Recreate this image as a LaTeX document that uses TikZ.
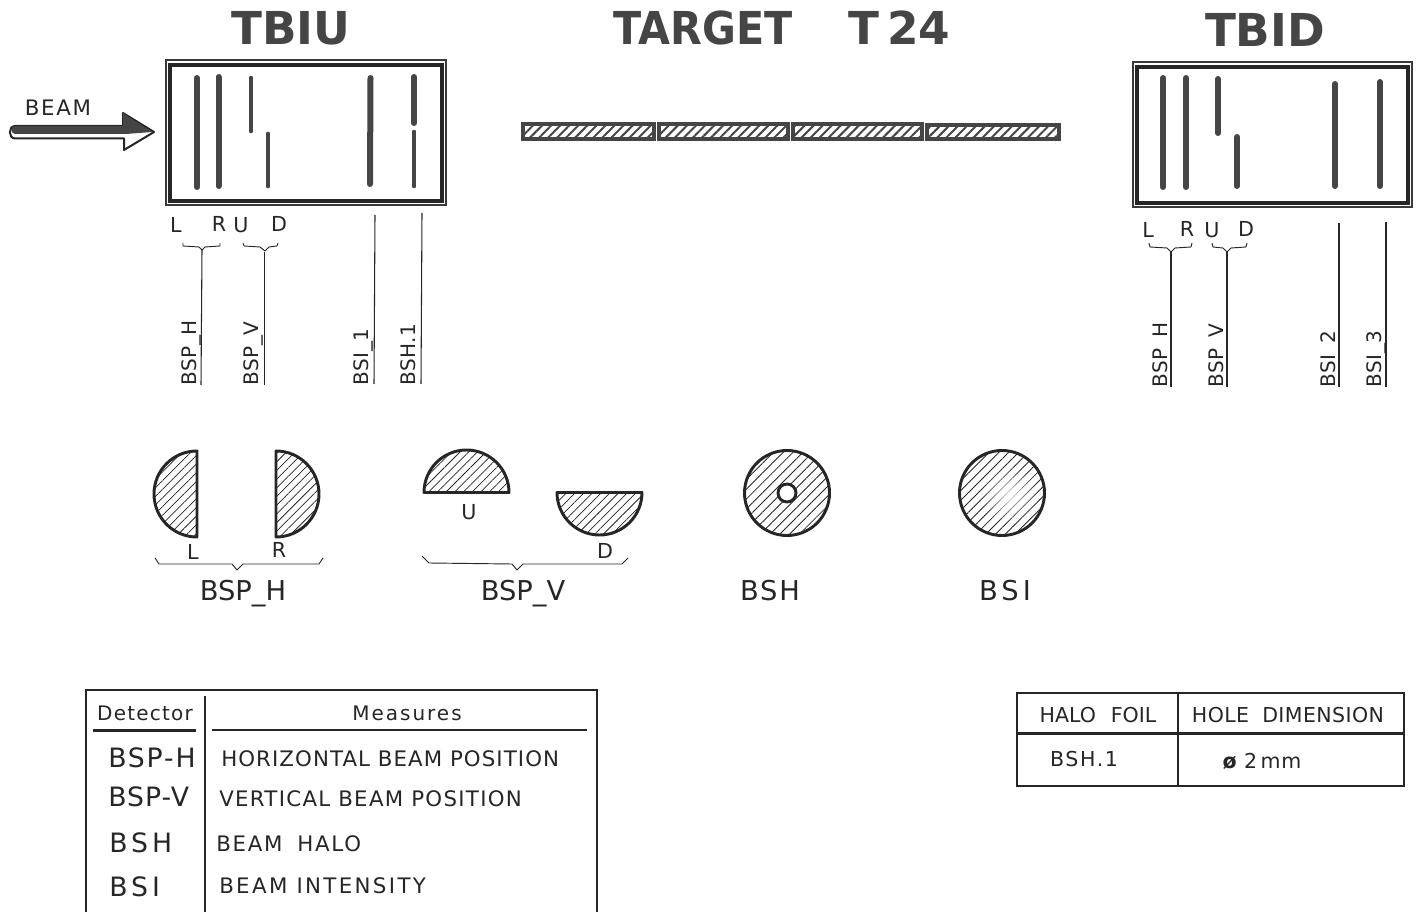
\documentclass[tikz,border=0pt]{standalone}
\usepackage{fontspec}
\setmainfont{DejaVu Sans}
\usetikzlibrary{patterns.meta,fadings}
\definecolor{ink}{HTML}{262626}
\definecolor{inkb}{HTML}{3a3a3a}
\definecolor{stip}{HTML}{454545}
\newcommand\ls[1]{\addfontfeature{LetterSpace=#1}}
\tikzfading[name=blob,inner color=transparent!15,outer color=transparent!100]
\tikzset{
  x=.75pt,y=.75pt,
  ink/.style={draw=stip,line cap=round,line join=round},
  bar/.style={ink,line width=4.5pt},
  thinbar/.style={ink,line width=3.5pt},
  frameo/.style={draw=inkb,line width=1pt},
  framei/.style={draw=ink,line width=2.3pt},
  leader/.style={draw=ink,line width=.8pt},
  bracket/.style={draw=ink,line width=.7pt,line join=round},
  disk/.style={draw=ink,line width=2.2pt,line join=round,pattern={Lines[angle=45,distance=4.6pt,line width=.55pt]},pattern color=ink},
  wdisk/.style={draw=ink,line width=2.2pt,pattern={Lines[angle=45,distance=5.2pt,line width=.65pt]},pattern color=ink},
  segm/.style={draw=stip,line width=2.8pt,pattern={Lines[angle=45,distance=4.8pt,line width=1.5pt]},pattern color=stip},
  ttl/.style={font=\bfseries\fontsize{34pt}{34pt}\selectfont,text=stip,inner sep=0pt},
  sm/.style={font=\fontsize{15.5pt}{15pt}\selectfont,text=ink,inner sep=0pt},
  rot/.style={font=\fontsize{15pt}{15pt}\selectfont\ls{3},text=ink,inner sep=0pt,rotate=90,anchor=base west},
  md/.style={font=\fontsize{20.5pt}{20pt}\selectfont,text=ink,inner sep=0pt,anchor=base},
  tb/.style={font=\fontsize{15.4pt}{15pt}\selectfont,text=ink,inner sep=0pt},
  tbl/.style={font=\fontsize{20pt}{20pt}\selectfont,text=ink,inner sep=0pt,anchor=west},
  tbr/.style={font=\fontsize{16pt}{16pt}\selectfont,text=ink,inner sep=0pt,anchor=west},
  rule/.style={draw=ink,line width=1.8pt},
  tline/.style={draw=ink,line width=1.3pt},
}
\begin{document}
\begin{tikzpicture}
\useasboundingbox (0,0) rectangle (1420,-912);
% titles
\node[ttl] (t1) at (291,-28) {TBIU};
\node[ttl] (t2) at (782,-28) {\scalebox{.91}[1]{TARGET}\hspace{42pt}T\,24};
\node[ttl] (t3) at (1265,-30) {TBID};
% TBIU box
\draw[frameo] (166,-60) rectangle (446,-205);
\draw[framei] (170,-65) rectangle (442,-201);
\draw[bar] (197,-78) -- (197,-187);
\draw[bar] (218.5,-77) -- (218.5,-186);
\draw[thinbar] (251,-78) -- (251,-131);
\draw[thinbar] (268,-134) -- (268,-186);
\draw[bar] (370.5,-78) -- (370,-184);
\draw[bar] (414,-77) -- (414,-123);
\draw[thinbar] (414,-132) -- (414,-186);
% beam arrow
\node[sm,font=\fontsize{16pt}{16pt}\selectfont\ls{8}] (beam) at (58,-108) {BEAM};
\draw[draw=ink,line width=1.5pt,fill=white,line join=round] (15,-126) -- (123,-126) -- (123,-113) -- (154,-132) -- (124,-150) -- (124,-138.5) -- (15,-138.5) to[out=180,in=180,looseness=1.4] cycle;
\fill[stip] (15,-126) to[out=180,in=180,looseness=1.4] (15,-134) -- (126,-134) -- (152,-132) -- (123,-113) -- (123,-126) -- cycle;
% TBIU labels
\node[sm] (ul) at (176,-225) {L};
\node[sm] (ur) at (219,-224) {R};
\node[sm] (uu) at (241,-225) {U};
\node[sm] (ud) at (279,-224) {D};
\draw[bracket] (183,-243) -- (183,-246) -- (199,-247) -- (202,-250) -- (205,-247) -- (220,-246) -- (220,-243);
\draw[bracket] (243,-243) -- (244,-246) -- (260,-247) -- (265,-251) -- (269,-247) -- (277,-246) -- (278,-243);
\coordinate (ua1) at (202,-250); \coordinate (ua2) at (201,-385);
\coordinate (ub1) at (264.5,-252); \coordinate (ub2) at (264.5,-385);
\coordinate (uc1) at (375,-215); \coordinate (uc2) at (374,-384);
\coordinate (ud1) at (422,-213); \coordinate (ud2) at (421,-384);
\draw[leader] (ua1) -- (ua2);
\draw[leader] (ub1) -- (ub2);
\draw[leader] (uc1) -- (uc2);
\draw[leader] (ud1) -- (ud2);
\node[rot] (ulh) at (196,-386) {BSP\_H};
\node[rot] (ulv) at (258,-386) {BSP\_V};
\node[rot] (uli) at (368,-386) {BSI\_1};
\node[rot] (ulb) at (415,-386) {BSH.1};
% target
\draw[segm] (523,-124) rectangle (654,-139);
\draw[segm] (659,-124) rectangle (788,-139);
\draw[segm] (793,-124) rectangle (922,-139);
\draw[segm] (927,-125) rectangle (1059,-139);
% TBID box
\draw[frameo] (1133,-62) rectangle (1412,-207);
\draw[framei] (1137,-67) rectangle (1408,-203);
\draw[bar] (1163,-78) -- (1163,-187);
\draw[bar] (1186,-78) -- (1186,-187);
\draw[bar] (1218,-79) -- (1218,-133);
\draw[bar] (1237,-137) -- (1237,-186);
\draw[bar] (1335,-84) -- (1335,-186);
\draw[bar] (1380,-82) -- (1380,-186);
\node[sm] (dl) at (1148,-230) {L};
\node[sm] (dr) at (1187,-229) {R};
\node[sm] (du) at (1212,-230) {U};
\node[sm] (dd) at (1246,-229) {D};
\draw[bracket] (1149,-243) -- (1150,-247) -- (1167,-248) -- (1171,-252) -- (1175,-248) -- (1191,-247) -- (1192,-243);
\draw[bracket] (1212,-243) -- (1213,-247) -- (1223,-248) -- (1227,-252) -- (1231,-248) -- (1246,-247) -- (1247,-243);
\coordinate (da1) at (1171,-252); \coordinate (da2) at (1171,-387);
\coordinate (db1) at (1227,-252); \coordinate (db2) at (1227,-387);
\coordinate (dc1) at (1339,-223); \coordinate (dc2) at (1339,-387);
\coordinate (dd1) at (1386,-222); \coordinate (dd2) at (1386,-387);
\draw[leader] (da1) -- (da2);
\draw[leader] (db1) -- (db2);
\draw[leader] (dc1) -- (dc2);
\draw[leader] (dd1) -- (dd2);
\node[rot] (dlh) at (1167,-388) {BSP\_H};
\node[rot] (dlv) at (1223,-388) {BSP\_V};
\node[rot] (dli) at (1335,-388) {BSI\_2};
\node[rot] (dlb) at (1381,-388) {BSI\_3};
% detector shapes
\draw[disk] (197,-451) arc[start angle=90,end angle=270,radius=43] -- cycle;
\draw[disk] (276,-451) arc[start angle=90,end angle=-90,radius=43] -- cycle;
\draw[disk] (424,-492.5) arc[start angle=180,end angle=0,radius=42.5] -- cycle;
\draw[disk] (557,-492.5) arc[start angle=180,end angle=360,radius=42.5] -- cycle;
\draw[wdisk] (787,-493) circle[radius=42.5];
\draw[draw=ink,line width=2.2pt,fill=white] (787,-493) circle[radius=9];
\draw[wdisk] (1002,-493) circle[radius=42.5];
\fill[white,path fading=blob] (1009,-494) circle[radius=30];
\node[sm] (sl) at (193,-552) {L};
\node[sm] (sr) at (279,-550) {R};
\node[sm] (su) at (469,-512) {U};
\node[sm] (sd) at (605,-551) {D};
\draw[bracket] (155,-558) -- (159,-564) -- (232,-564) -- (237,-570) -- (243,-564) -- (319,-564) -- (323,-558);
\draw[bracket] (422,-556) -- (429,-563) -- (512,-564) -- (517,-570) -- (523,-564) -- (622,-564) -- (628,-558);
\node[md] (nh) at (243,-600) {BSP\_H};
\node[md] (nv) at (523,-600) {BSP\_V};
\node[md,font=\fontsize{20.5pt}{20pt}\selectfont\ls{7}] (nb) at (770,-600) {BSH};
\node[md,font=\fontsize{20.5pt}{20pt}\selectfont\ls{15}] (ni) at (1005,-600) {BSI};
% table 1
\draw[rule] (86,-915) -- (86,-690) -- (597,-690) -- (597,-915);
\draw[tline] (205,-696) -- (205,-915);
\draw[rule] (93,-730.5) -- (196,-730.5);
\draw[rule] (212,-730) -- (587,-730);
\node[tb,font=\fontsize{15pt}{15pt}\selectfont\ls{6}] (hd) at (145,-713) {Detector};
\node[tb,font=\fontsize{15pt}{15pt}\selectfont\ls{10}] (hm) at (407,-713) {Measures};
\node[tbl,font=\fontsize{20pt}{20pt}\selectfont\ls{7}] (a1) at (108,-758) {BSP-H};
\node[tbl,font=\fontsize{20pt}{20pt}\selectfont\ls{4}] (a2) at (108,-797) {BSP-V};
\node[tbl,font=\fontsize{20pt}{20pt}\selectfont\ls{15}] (a3) at (109,-843) {BSH};
\node[tbl,font=\fontsize{20pt}{20pt}\selectfont\ls{15}] (a4) at (109,-887) {BSI};
\node[tbr,font=\fontsize{16pt}{16pt}\selectfont\ls{5}] (b1) at (221,-759) {HORIZONTAL BEAM POSITION};
\node[tbr,font=\fontsize{16pt}{16pt}\selectfont\ls{6}] (b2) at (219,-799) {VERTICAL BEAM POSITION};
\node[tbr,font=\fontsize{16pt}{16pt}\selectfont\ls{8}] (b3) at (216,-844) {BEAM\hspace{.3em} HALO};
\node[tbr,font=\fontsize{16pt}{16pt}\selectfont\ls{11}] (b4) at (219,-886) {BEAM INTENSITY};
% table 2
\draw[rule] (1017,-693) rectangle (1404,-786);
\draw[tline] (1178,-693) -- (1178,-786);
\draw[draw=ink,line width=2.1pt] (1017,-733.5) -- (1404,-733.5);
\node[tb] (c1) at (1098,-715) {HALO\hspace{.4em} FOIL};
\node[tb,font=\fontsize{15.4pt}{15pt}\selectfont\ls{2}] (c2) at (1288,-715) {HOLE\hspace{.3em} DIMENSION};
\node[tb,font=\fontsize{15.4pt}{15pt}\selectfont\ls{8}] (c3) at (1084,-759) {BSH.1};
\node[tb,font=\fontsize{15.4pt}{15pt}\selectfont\ls{4}] (c4) at (1262,-761) {{\bfseries ø} 2\,mm};
\end{tikzpicture}
\end{document}
